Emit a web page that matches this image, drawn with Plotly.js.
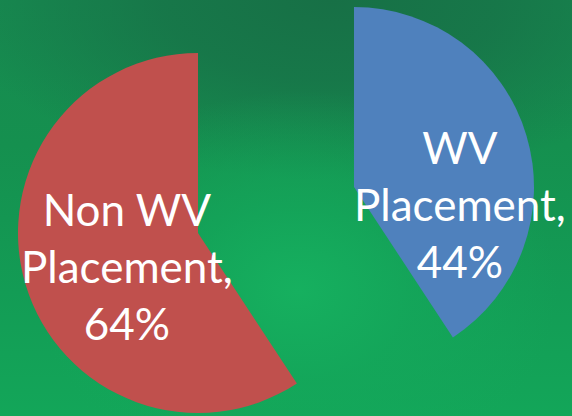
<!DOCTYPE html>
<html>
<head>
<meta charset="utf-8">
<script src="https://cdn.plot.ly/plotly-3.0.1.min.js"></script>
<style>
  html, body { margin: 0; padding: 0; }
  #chart {
    width: 572px; height: 416px;
    background:
      radial-gradient(ellipse 260px 200px at 52% 70%, rgba(22,176,95,1) 0%, rgba(20,168,91,0.7) 45%, rgba(20,160,88,0) 100%),
      radial-gradient(ellipse 380px 180px at 58% 0%, rgba(23,112,70,1) 0%, rgba(23,116,72,0.85) 45%, rgba(23,120,74,0) 100%),
      linear-gradient(to bottom, #178a50 0%, #15904f 35%, #139c55 70%, #13a659 100%);
  }
</style>
</head>
<body>
<div id="chart"></div>
<script>
  // Data
  var labels = ['WV Placement', 'Non WV Placement'];
  var values = [44, 64];
  var colors = ['#4F81BD', '#C0504D'];

  var W = 572, H = 416, R = 180;
  // slice centres (exploded pie), in pixels from top-left
  var centres = [[354, 187], [198, 233]];
  // label centres
  var labelPos = [[460, 204], [127, 266]];

  function domainFor(c) {
    return {
      x: [(c[0] - R) / W, (c[0] + R) / W],
      y: [Math.max(0, (H - (c[1] + R)) / H), Math.min(1, (H - (c[1] - R)) / H)]
    };
  }

  var traces = labels.map(function (lab, i) {
    var cols = colors.map(function (c, j) { return j === i ? c : 'rgba(0,0,0,0)'; });
    return {
      type: 'pie',
      labels: labels,
      values: values,
      sort: false,
      direction: 'clockwise',
      rotation: 0,
      marker: { colors: cols, line: { width: 0 } },
      textinfo: 'none',
      hoverinfo: 'skip',
      domain: domainFor(centres[i]),
      showlegend: false
    };
  });

  var annotations = labels.map(function (lab, i) {
    var txt = lab.replace(' Placement', '<br>Placement') + ',<br>' + values[i] + '%';
    return {
      text: txt,
      xref: 'paper', yref: 'paper',
      x: labelPos[i][0] / W, y: (H - labelPos[i][1]) / H,
      xanchor: 'center', yanchor: 'middle',
      showarrow: false,
      align: 'center',
      font: { family: 'Lato, "Open Sans", sans-serif', size: 44, color: '#ffffff' }
    };
  });

  var layout = {
    width: W, height: H,
    margin: { l: 0, r: 0, t: 0, b: 0 },
    paper_bgcolor: 'rgba(0,0,0,0)',
    plot_bgcolor: 'rgba(0,0,0,0)',
    showlegend: false,
    annotations: annotations
  };

  Plotly.newPlot('chart', traces, layout, { displayModeBar: false, staticPlot: true });
</script>
</body>
</html>
